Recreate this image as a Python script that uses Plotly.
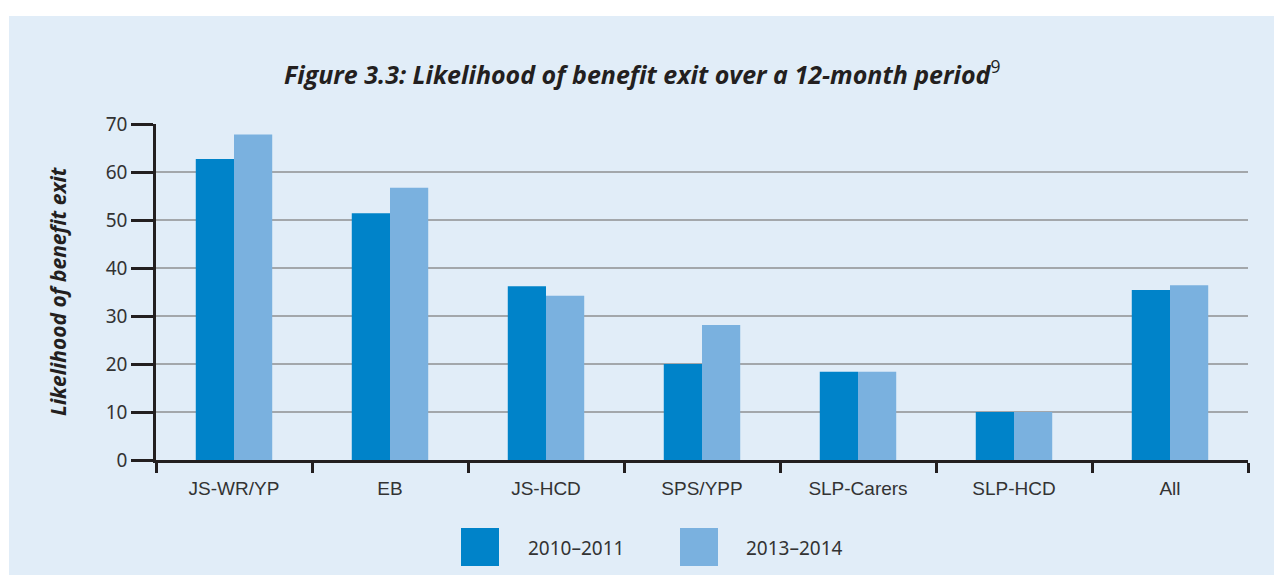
import plotly.graph_objects as go

categories = ["JS-WR/YP", "EB", "JS-HCD", "SPS/YPP", "SLP-Carers", "SLP-HCD", "All"]
series_names = ["2010\u20132011", "2013\u20132014"]
values_2010_2011 = [62.7, 51.4, 36.2, 20.0, 18.4, 10.0, 35.4]
values_2013_2014 = [67.8, 56.7, 34.2, 28.1, 18.4, 10.0, 36.4]
y_ticks = [0, 10, 20, 30, 40, 50, 60, 70]

# page body has an 8px margin, so positions are shifted by -8
OFF = 8
W, H = 1282, 575
ML, MT = 156 - OFF, 124 - OFF
PW, PH = 1092, 336
MR, MB = W - ML - PW, H - MT - PH

BG = "#E1EDF8"
DARK = "#0083C9"
LIGHT = "#7AB1DF"
AXIS = "#231F20"
TXT = "#333333"

fig = go.Figure()
fig.add_trace(go.Bar(x=categories, y=values_2010_2011, name=series_names[0],
                     marker=dict(color=DARK, line=dict(width=0)), showlegend=False))
fig.add_trace(go.Bar(x=categories, y=values_2013_2014, name=series_names[1],
                     marker=dict(color=LIGHT, line=dict(width=0)), showlegend=False))

def px_x(p):
    return (p - OFF - ML) / PW

def px_y(p):
    return 1 - (p - OFF - MT) / PH

shapes = [
    dict(type="rect", xref="paper", yref="paper", x0=px_x(0), x1=px_x(W + 20), y0=px_y(0), y1=px_y(16),
         fillcolor="white", line=dict(width=0), layer="below"),
    dict(type="rect", xref="paper", yref="paper", x0=px_x(0), x1=px_x(9), y0=px_y(0), y1=px_y(H + 20),
         fillcolor="white", line=dict(width=0), layer="below"),
    dict(type="rect", xref="paper", yref="paper", x0=px_x(461), x1=px_x(499), y0=px_y(566), y1=px_y(528),
         fillcolor=DARK, line=dict(width=0)),
    dict(type="rect", xref="paper", yref="paper", x0=px_x(680), x1=px_x(718), y0=px_y(566), y1=px_y(528),
         fillcolor=LIGHT, line=dict(width=0)),
]

annotations = [
    dict(text=series_names[0], xref="paper", yref="paper", x=px_x(526), y=px_y(548),
         xanchor="left", yanchor="middle", showarrow=False,
         font=dict(family="Noto Sans", size=19, color=TXT)),
    dict(text=series_names[1], xref="paper", yref="paper", x=px_x(744), y=px_y(548),
         xanchor="left", yanchor="middle", showarrow=False,
         font=dict(family="Noto Sans", size=19, color=TXT)),
    dict(text="<b><i>Figure 3.3: Likelihood of benefit exit over a 12-month period</i></b><sup>9</sup>",
         xref="paper", yref="paper", x=px_x(642), y=px_y(72),
         xanchor="center", yanchor="middle", showarrow=False,
         font=dict(family="Open Sans", size=25, color=AXIS)),
    dict(text="<b><i>Likelihood of benefit exit</i></b>",
         xref="paper", yref="paper", x=px_x(58), y=px_y(291), textangle=-90,
         xanchor="center", yanchor="middle", showarrow=False,
         font=dict(family="Open Sans", size=21, color=AXIS)),
]

fig.update_layout(
    width=W, height=H,
    margin=dict(l=ML, r=MR, t=MT, b=MB, pad=0),
    paper_bgcolor=BG, plot_bgcolor=BG,
    barmode="group", bargap=0.51, bargroupgap=0,
    shapes=shapes, annotations=annotations,
    font=dict(family="Noto Sans", color=TXT),
)
fig.update_xaxes(
    showline=True, linecolor=AXIS, linewidth=2.5,
    ticks="outside", ticklen=10, tickwidth=2.5, tickcolor=AXIS,
    tickson="boundaries", showgrid=False, ticklabelstandoff=9,
    tickfont=dict(family="Liberation Sans", size=19, color=TXT),
)
fig.update_yaxes(
    range=[0, 70], tickvals=y_ticks, showline=True, linecolor=AXIS, linewidth=2.5,
    ticks="outside", ticklen=22, tickwidth=2.5, tickcolor=AXIS,
    showgrid=True, gridcolor="#A3A7AB", gridwidth=1.5, zeroline=False,
    tickfont=dict(family="Noto Sans", size=19, color=TXT),
)

fig.write_html("out.html")
